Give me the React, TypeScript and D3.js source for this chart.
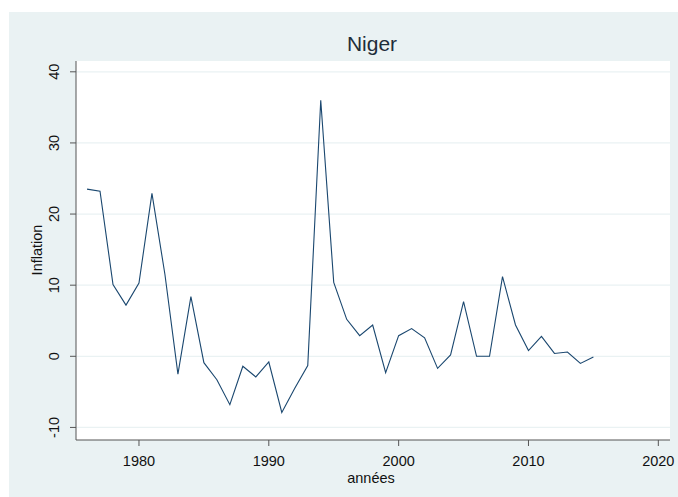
import React from "react";
import * as d3 from "d3";

const years = [1976,1977,1978,1979,1980,1981,1982,1983,1984,1985,1986,1987,1988,1989,1990,1991,1992,1993,1994,1995,1996,1997,1998,1999,2000,2001,2002,2003,2004,2005,2006,2007,2008,2009,2010,2011,2012,2013,2014,2015];
const inflation = [23.5,23.2,10.1,7.2,10.3,22.9,11.5,-2.5,8.4,-0.9,-3.3,-6.8,-1.4,-2.9,-0.8,-7.9,-4.5,-1.3,36.0,10.4,5.2,2.9,4.4,-2.3,2.9,3.9,2.6,-1.7,0.2,7.7,0.0,0.0,11.2,4.4,0.8,2.8,0.4,0.6,-1.0,-0.1];
const xTicks = [1980,1990,2000,2010,2020];
const yTicks = [-10,0,10,20,30,40];

export default function App() {
  const W = 678, H = 497;
  const left = 76, right = 670, top = 61, bottom = 440;
  const x = d3.scaleLinear().domain([1975.15, 2020.9]).range([left, right]);
  const y = d3.scaleLinear().domain([0, 40]).range([356.3, 71.8]);
  const line = d3.line<number>().x((_, i) => x(years[i])).y(d => y(d));
  const font = "'Liberation Sans', Arial, sans-serif";
  return (
    <svg width={W} height={H} style={{ position: "absolute", left: 0, top: 0 }}>
      <rect x={0} y={0} width={W} height={H} fill="#ffffff" />
      <rect x={9} y={12} width={W - 9} height={H - 12} fill="#eaf2f3" />
      <rect x={left} y={top} width={right - left} height={bottom - top} fill="#ffffff" />
      {yTicks.map(t => (
        <line key={"g" + t} x1={left} x2={right} y1={y(t)} y2={y(t)} stroke="#eaf2f3" strokeWidth={1.2} />
      ))}
      <path d={line(inflation) || ""} fill="none" stroke="#1a476f" strokeWidth={1.1} />
      <line x1={left} x2={left} y1={top} y2={bottom} stroke="#555" strokeWidth={1} />
      <line x1={left} x2={right} y1={bottom} y2={bottom} stroke="#555" strokeWidth={1} />
      {yTicks.map(t => (
        <g key={"y" + t}>
          <line x1={left - 6} x2={left} y1={y(t)} y2={y(t)} stroke="#555" />
          <text transform={`translate(${59},${y(t)}) rotate(-90)`} textAnchor="middle" fontFamily={font} fontSize={14.5} fill="#111">{t}</text>
        </g>
      ))}
      {xTicks.map(t => (
        <g key={"x" + t}>
          <line x1={x(t)} x2={x(t)} y1={bottom} y2={bottom + 6} stroke="#555" />
          <text x={x(t)} y={466} textAnchor="middle" fontFamily={font} fontSize={14.5} fill="#111">{t}</text>
        </g>
      ))}
      <text x={371} y={483} textAnchor="middle" fontFamily={font} fontSize={14.5} fill="#111">années</text>
      <text transform={`translate(${42},${250}) rotate(-90)`} textAnchor="middle" fontFamily={font} fontSize={14.5} fill="#111">Inflation</text>
      <text x={372} y={51} textAnchor="middle" fontFamily={font} fontSize={21} fill="#1e2d3a">Niger</text>
    </svg>
  );
}
